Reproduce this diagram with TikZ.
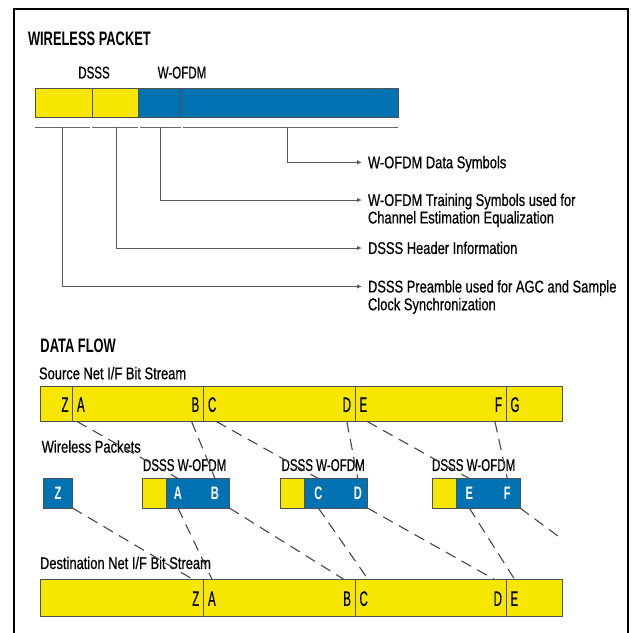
\documentclass[tikz,border=0pt]{standalone}
\usepackage{fontspec}
\setmainfont{Liberation Sans}[FakeStretch=0.76, UprightFeatures={FakeBold=0.5}]
\newfontfamily\capsfont{Liberation Sans}[FakeStretch=0.68, UprightFeatures={FakeBold=0.5}]
\newfontfamily\titlefont{Liberation Sans}[FakeStretch=0.66]
\newfontfamily\letterfont{Liberation Sans}[FakeStretch=0.55, UprightFeatures={FakeBold=0.4}]
\newfontfamily\pkfont{Liberation Sans}[FakeStretch=0.62]
\usetikzlibrary{arrows.meta}
\definecolor{yel}{RGB}{246,230,0}
\definecolor{blu}{RGB}{0,114,178}
\definecolor{edge}{RGB}{80,80,80}
\tikzset{
  seg/.style={draw=edge, line width=0.9pt, inner sep=0pt, outer sep=0pt},
  body/.style={font=\fontsize{17}{19}\selectfont, inner sep=0pt, outer sep=0pt, text height=11.9pt, text depth=0pt},
  caps/.style={font=\capsfont\fontsize{17}{19}\selectfont, inner sep=0pt, outer sep=0pt, text height=11.9pt, text depth=0pt},
  title/.style={font=\titlefont\bfseries\fontsize{19.5}{21}\selectfont, inner sep=0pt, outer sep=0pt, text height=13.7pt, text depth=0pt},
  lett/.style={font=\letterfont\fontsize{21}{22}\selectfont, inner sep=0pt, outer sep=0pt, text height=14.7pt, text depth=0pt},
  pk/.style={font=\pkfont\bfseries\fontsize{18}{20}\selectfont, text=white, inner sep=0pt, outer sep=0pt, text height=12.6pt, text depth=0pt},
  conn/.style={draw=black!65, line width=1pt, -{Latex[length=5pt,width=4.5pt]}},
  dashln/.style={draw=black!72, line width=1.1pt, dash pattern=on 11pt off 7pt},
  uline/.style={draw=black!60, line width=1.2pt}
}
\begin{document}
\begin{tikzpicture}[x=1pt,y=-1pt]
\useasboundingbox (0,0) rectangle (631,633);
% frame
\draw[line width=2.5pt] (14,633) -- (14,9) -- (628,9) -- (628,633);

% ---------- WIRELESS PACKET ----------
\node[title, anchor=west] (ttl1) at (28,39) {WIRELESS PACKET};
\node[caps] (lbldsss) at (94,72.5) {DSSS};
\node[caps] (lblofdm) at (182,72.5) {W-OFDM};

\node[seg, fill=yel, minimum width=57pt, minimum height=29pt] (tb1) at (63.5,102.5) {};
\node[seg, fill=yel, minimum width=46pt, minimum height=29pt] (tb2) at (115,102.5) {};
\node[seg, fill=blu, minimum width=42pt, minimum height=29pt] (tb3) at (159,102.5) {};
\node[seg, fill=blu, minimum width=218pt, minimum height=29pt] (tb4) at (289,102.5) {};

\draw[uline] (35,127.3) -- (90,127.3);
\draw[uline] (92,127.3) -- (138,127.3);
\draw[uline] (140,127.3) -- (181,127.3);
\draw[uline] (183,127.3) -- (398,127.3);
\coordinate (u1) at (62,127.3);
\coordinate (u2) at (116,127.3);
\coordinate (u3) at (160,127.3);
\coordinate (u4) at (287,127.3);

\node[body, anchor=west] (t1) at (368,162.3) {W-OFDM Data Symbols};
\node[body, anchor=west] (t2a) at (368,200) {W-OFDM Training Symbols used for};
\node[body, anchor=west] (t2b) at (368,217.5) {Channel Estimation Equalization};
\node[body, anchor=west] (t3) at (368,248) {DSSS Header Information};
\node[body, anchor=west] (t4a) at (368,286.5) {DSSS Preamble used for AGC and Sample};
\node[body, anchor=west] (t4b) at (368,304.3) {Clock Synchronization};

\draw[conn] (u4) |- ([xshift=-6pt]t1.west);
\draw[conn] (u3) |- ([xshift=-6pt]t2a.west);
\draw[conn] (u2) |- ([xshift=-6pt]t3.west);
\draw[conn] (u1) |- ([xshift=-6pt]t4a.west);

% ---------- DATA FLOW ----------
\node[title, anchor=west] (ttl2) at (40.5,345.5) {DATA FLOW};
\node[body, anchor=west] (srclbl) at (39,373.3) {Source Net I/F Bit Stream};

% source bar
\node[seg, fill=yel, minimum width=32pt, minimum height=35.5pt] (s1) at (56.5,403.75) {};
\node[seg, fill=yel, minimum width=130.8pt, minimum height=35.5pt] (s2) at (137.9,403.75) {};
\node[seg, fill=yel, minimum width=151.7pt, minimum height=35.5pt] (s3) at (279.15,403.75) {};
\node[seg, fill=yel, minimum width=151pt, minimum height=35.5pt] (s4) at (430.5,403.75) {};
\node[seg, fill=yel, minimum width=56pt, minimum height=35.5pt] (s5) at (534,403.75) {};
\node[lett, anchor=east] (sZ) at (68.5,404.5) {Z};
\node[lett, anchor=west] (sA) at (77,404.5) {A};
\node[lett, anchor=east] (sB) at (199.3,404.5) {B};
\node[lett, anchor=west] (sC) at (208,404.5) {C};
\node[lett, anchor=east] (sD) at (351,404.5) {D};
\node[lett, anchor=west] (sE) at (359.5,404.5) {E};
\node[lett, anchor=east] (sF) at (502,404.5) {F};
\node[lett, anchor=west] (sG) at (510.5,404.5) {G};

\node[body, anchor=west] (wplbl) at (41.7,446.7) {Wireless Packets};

% packets
\node[seg, fill=blu, minimum width=29pt, minimum height=29.5pt] (zb) at (58,493.25) {};
\node[seg, fill=yel, minimum width=24pt, minimum height=29.5pt] (p1y) at (154,493.25) {};
\node[seg, fill=blu, minimum width=63.3pt, minimum height=29.5pt] (p1b) at (197.65,493.25) {};
\node[seg, fill=yel, minimum width=24pt, minimum height=29.5pt] (p2y) at (292.5,493.25) {};
\node[seg, fill=blu, minimum width=63pt, minimum height=29.5pt] (p2b) at (336,493.25) {};
\node[seg, fill=yel, minimum width=24.7pt, minimum height=29.5pt] (p3y) at (444.35,493.25) {};
\node[seg, fill=blu, minimum width=63.3pt, minimum height=29.5pt] (p3b) at (488.35,493.25) {};

\node[caps, anchor=west] (pl1) at (143,465) {DSSS W-OFDM};
\node[caps, anchor=west] (pl2) at (281.5,465) {DSSS W-OFDM};
\node[caps, anchor=west] (pl3) at (432,465) {DSSS W-OFDM};

\node[pk] (pZ) at (58,493.3) {Z};
\node[pk] (pA) at (178,493.3) {A};
\node[pk] (pB) at (215,493.3) {B};
\node[pk] (pC) at (318.3,493.3) {C};
\node[pk] (pD) at (357.8,493.3) {D};
\node[pk] (pE) at (469.3,493.3) {E};
\node[pk] (pF) at (507.3,493.3) {F};

% destination
\node[body, anchor=west] (dstlbl) at (40,563) {Destination Net I/F Bit Stream};
\node[seg, fill=yel, minimum width=162.8pt, minimum height=37pt] (d1) at (121.9,597.5) {};
\node[seg, fill=yel, minimum width=151.7pt, minimum height=37pt] (d2) at (279.15,597.5) {};
\node[seg, fill=yel, minimum width=151pt, minimum height=37pt] (d3) at (430.5,597.5) {};
\node[seg, fill=yel, minimum width=56pt, minimum height=37pt] (d4) at (534,597.5) {};
\node[lett, anchor=east] (dZ) at (199.3,598.5) {Z};
\node[lett, anchor=west] (dA) at (208,598.5) {A};
\node[lett, anchor=east] (dB) at (351,598.5) {B};
\node[lett, anchor=west] (dC) at (359.5,598.5) {C};
\node[lett, anchor=east] (dD) at (502,598.5) {D};
\node[lett, anchor=west] (dE) at (510.5,598.5) {E};

% dashed connectors: source -> packets
\draw[dashln] (sA.south west |- s2.south) -- (pA.north |- p1b.north);
\draw[dashln] (sB.south west |- s2.south) -- (pB.north |- p1b.north);
\draw[dashln] (sC.south east |- s3.south) -- (pC.north |- p2b.north);
\draw[dashln] (sD.south |- s3.south) -- (pD.north |- p2b.north);
\draw[dashln] (sE.south east |- s4.south) -- (pE.north |- p3b.north);
\draw[dashln] (sF.south west |- s4.south) -- (pF.north |- p3b.north);
% packets -> destination
\coordinate (gend) at (562,539);
\draw[dashln] (zb.south east) -- (dZ.north west |- d1.north);
\draw[dashln] (pA.south |- p1b.south) -- (dA.north |- d2.north);
\draw[dashln] (p1b.south east) -- (dB.north west |- d2.north);
\draw[dashln] (pC.south |- p2b.south) -- (dC.north east |- d3.north);
\draw[dashln] (p2b.south east) -- (dD.north west |- d3.north);
\draw[dashln] (pE.south |- p3b.south) -- (dE.north |- d4.north);
\draw[dashln] (p3b.south east) -- (gend);
\end{tikzpicture}
\end{document}
